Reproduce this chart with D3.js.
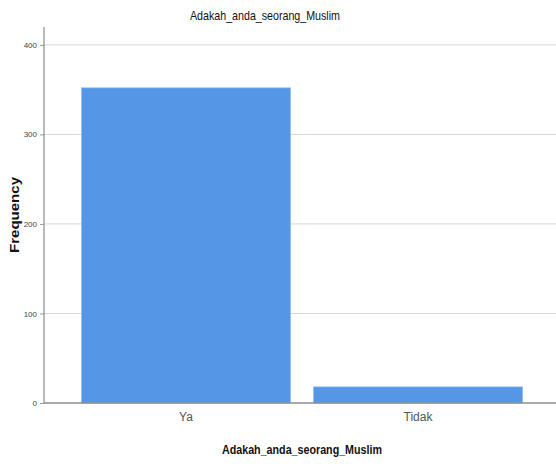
<!DOCTYPE html>
<html>
<head>
<meta charset="utf-8">
<script src="https://cdn.jsdelivr.net/npm/d3@7"></script>
<style>
  body { margin: 0; background: #fff; }
  text { font-family: "Liberation Sans Narrow", "Liberation Sans", Arial, sans-serif; }
</style>
</head>
<body>
<div id="chart"></div>
<script>
// Chart data
let categories = ["Ya", "Tidak"];
let frequencies = [352, 18];
let yTicks = [0, 100, 200, 300, 400];

let width = 556;
let height = 464;

// plot area (window.top is taken, so prefix these)
let plotLeft = 44;
let plotRight = 560;
let plotTop = 27;
let plotBottom = 403;

let barColor = "#5596e6";

let svg = d3.select("#chart")
    .append("svg")
    .attr("width", width)
    .attr("height", height);

let x = d3.scaleBand()
    .domain(categories)
    .range([plotLeft, plotRight])
    .paddingInner(0.1)
    .paddingOuter(0.162);

let y = d3.scaleLinear()
    .domain([0, 420])
    .range([plotBottom, plotTop]);

// gridlines
svg.append("g")
    .selectAll("line")
    .data(yTicks.slice(1))
    .enter().append("line")
    .attr("x1", plotLeft)
    .attr("x2", width)
    .attr("y1", d => y(d))
    .attr("y2", d => y(d))
    .style("stroke", "#d6d6d6")
    .style("stroke-width", 1);

// bars
svg.append("g")
    .selectAll("rect")
    .data(categories)
    .enter().append("rect")
    .attr("x", d => x(d))
    .attr("y", (d, i) => y(frequencies[i]))
    .attr("width", x.bandwidth())
    .attr("height", (d, i) => plotBottom - y(frequencies[i]))
    .style("fill", barColor)
    .style("stroke", "#8fbcf0")
    .style("stroke-width", 0.8);

// y axis
let yAxis = svg.append("g")
    .attr("transform", `translate(${plotLeft},0)`)
    .call(d3.axisLeft(y).tickValues(yTicks).tickSize(4).tickPadding(3));
yAxis.select(".domain").remove();
yAxis.selectAll(".tick line").style("stroke", "#999");
yAxis.selectAll("text")
    .style("font-size", "8px")
    .style("fill", "#444");
svg.append("line")
    .attr("x1", plotLeft).attr("x2", plotLeft)
    .attr("y1", plotTop).attr("y2", plotBottom)
    .style("stroke", "#8c8c8c")
    .style("stroke-width", 1.2);

// x axis
let xAxis = svg.append("g")
    .attr("transform", `translate(0,${plotBottom})`)
    .call(d3.axisBottom(x).tickSize(0).tickPadding(9));
xAxis.select(".domain").remove();
xAxis.selectAll("text")
    .style("font-size", "12px")
    .style("fill", "#555");
svg.append("line")
    .attr("x1", plotLeft).attr("x2", width)
    .attr("y1", plotBottom).attr("y2", plotBottom)
    .style("stroke", "#8c8c8c")
    .style("stroke-width", 1.5);

// titles (squeezed to look like the narrow font of the original)
svg.append("text")
    .attr("x", 265)
    .attr("y", 20)
    .attr("text-anchor", "middle")
    .attr("textLength", 150)
    .attr("lengthAdjust", "spacingAndGlyphs")
    .style("font-size", "13px")
    .style("fill", "#111")
    .text("Adakah_anda_seorang_Muslim");

svg.append("text")
    .attr("x", 302)
    .attr("y", 454)
    .attr("text-anchor", "middle")
    .attr("textLength", 160)
    .attr("lengthAdjust", "spacingAndGlyphs")
    .style("font-size", "13px")
    .style("font-weight", "bold")
    .style("fill", "#111")
    .text("Adakah_anda_seorang_Muslim");

svg.append("text")
    .attr("transform", "translate(19,215) rotate(-90)")
    .attr("text-anchor", "middle")
    .attr("textLength", 76)
    .attr("lengthAdjust", "spacingAndGlyphs")
    .style("font-family", "'Liberation Sans', Arial, sans-serif")
    .style("font-size", "13px")
    .style("font-weight", "bold")
    .style("fill", "#111")
    .text("Frequency");
</script>
</body>
</html>
